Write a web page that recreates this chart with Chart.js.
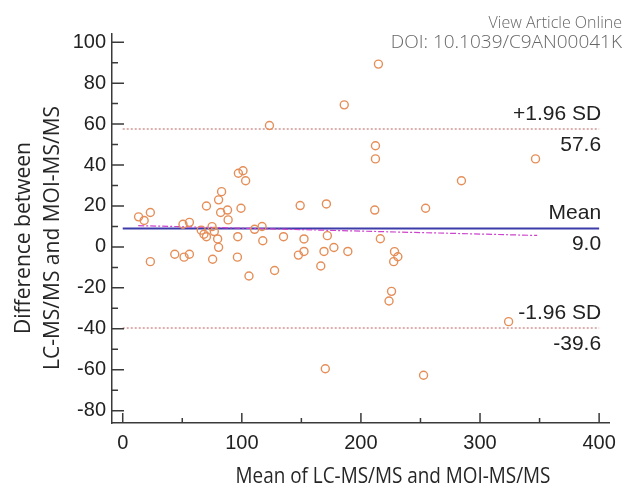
<!DOCTYPE html>
<html>
<head>
<meta charset="utf-8">
<script src="https://cdn.jsdelivr.net/npm/chart.js@4.4.1/dist/chart.umd.min.js"></script>
<style>
  body { margin: 0; background: #fff; }
  #wrap { position: relative; width: 624px; height: 490px; }
  .src { position: absolute; right: 2px; line-height: 1; color: #666; font-family: "Open Sans", sans-serif; font-weight: 300; white-space: nowrap; }
</style>
</head>
<body>
<div id="wrap">
  <canvas id="baChart" width="624" height="490"></canvas>
  <div class="src" style="top: 14px; font-size: 16px;">View Article Online</div>
  <div class="src" style="top: 32px; font-size: 19px;">DOI: 10.1039/C9AN00041K</div>
</div>
<script>
// Bland-Altman: x = mean of the two methods, y = difference between them
const meanValues = [13.3, 18.0, 23.2, 23.2, 43.7, 50.6, 56.0, 51.5, 56.0, 65.9,
                    68.2, 70.3, 70.3, 75.0, 76.9, 79.7, 80.5, 75.5, 80.5, 83.0,
                    82.2, 88.0, 88.5, 97.1, 101.0, 103.2, 99.3, 96.6, 96.3, 110.7,
                    117.0, 117.6, 127.5, 135.0, 149.0, 152.2, 147.5, 152.2, 171.0, 171.8,
                    177.3, 169.0, 166.3, 189.0, 106.0, 170.1, 212.2, 212.2, 346.6, 284.4,
                    211.6, 254.3, 216.3, 228.2, 231.0, 227.5, 225.7, 223.6, 324.0, 252.6,
                    214.7, 186.0, 123.2];
const diffValues = [14.7, 12.9, 16.8, -7.2, -3.6, 11.1, 12.0, -5.0, -3.6, 8.2,
                    6.2, 5.0, 20.0, 9.9, 7.5, 3.9, -0.2, -6.0, 23.0, 27.0,
                    16.8, 18.0, 13.2, 36.0, 37.2, 32.3, 18.9, 5.0, -5.0, 8.6,
                    10.0, 3.0, -11.5, 5.0, 20.2, 3.9, -4.0, -2.2, 21.0, 5.5,
                    -0.3, -2.2, -9.3, -2.2, -14.2, -59.5, 49.4, 43.0, 43.0, 32.3,
                    18.0, 18.9, 4.0, -2.3, -4.8, -7.2, -21.7, -26.4, -36.5, -62.7,
                    89.3, 69.4, 59.3];

const xTicks = [0, 100, 200, 300, 400];
const xMinorTicks = [50, 150, 250, 350];
const yTicks = [-80, -60, -40, -20, 0, 20, 40, 60, 80, 100];
const yMinorTicks = [-70, -50, -30, -10, 10, 30, 50, 70, 90];

const limitLabels = ['+1.96 SD', 'Mean', '-1.96 SD'];
const limitValues = [57.6, 9.0, -39.6];
const limitSpan = [0, 400];

// regression of difference on mean (dash-dot)
const trendX = [13, 348];
const trendY = [10.4, 5.6];

const xTitle = 'Mean of LC-MS/MS and MOI-MS/MS';
const yTitle = ['Difference between', 'LC-MS/MS and MOI-MS/MS'];

const tickFont = { family: '"Liberation Sans", Arial, sans-serif', size: 20 };

function flatLine(v) {
    return limitSpan.map(x => ({ x: x, y: v }));
}

// inward tick marks, limit labels and axis titles
const extrasPlugin = {
    id: 'extras',
    afterDraw(chart) {
        const { ctx, scales: { x, y } } = chart;
        const left = x.left, bottom = y.bottom;
        ctx.save();
        ctx.strokeStyle = '#3a3a3a';
        ctx.lineWidth = 1.5;
        ctx.beginPath();
        xTicks.forEach(v => { const px = x.getPixelForValue(v); ctx.moveTo(px, bottom); ctx.lineTo(px, bottom - 10); });
        xMinorTicks.forEach(v => { const px = x.getPixelForValue(v); ctx.moveTo(px, bottom); ctx.lineTo(px, bottom - 5); });
        yTicks.forEach(v => { const py = y.getPixelForValue(v); ctx.moveTo(left, py); ctx.lineTo(left + 12, py); });
        yMinorTicks.forEach(v => { const py = y.getPixelForValue(v); ctx.moveTo(left, py); ctx.lineTo(left + 6, py); });
        ctx.stroke();

        ctx.fillStyle = '#222';
        ctx.font = '21px "Liberation Sans", Arial, sans-serif';
        ctx.textAlign = 'right';
        ctx.textBaseline = 'middle';
        const rightPx = x.getPixelForValue(400) + 2;
        limitValues.forEach((v, i) => {
            const py = y.getPixelForValue(v);
            ctx.fillText(limitLabels[i], rightPx, py - 15);
            ctx.fillText(v.toFixed(1), rightPx, py + 16);
        });

        ctx.font = '21px "Open Sans", sans-serif';
        ctx.fillStyle = '#262626';
        ctx.textAlign = 'center';
        // x title is a little condensed in the original
        ctx.save();
        ctx.translate(393, 477);
        ctx.scale(0.9, 1);
        ctx.fillText(xTitle, 0, 0);
        ctx.restore();

        ctx.translate(24, 238);
        ctx.rotate(-Math.PI / 2);
        ctx.fillText(yTitle[0], 0, 0);
        ctx.fillText(yTitle[1], 0, 29);
        ctx.restore();
    }
};

const ctx = document.getElementById('baChart').getContext('2d');

new Chart(ctx, {
    data: {
        datasets: [
            {
                type: 'scatter',
                data: meanValues.map((m, i) => ({ x: m, y: diffValues[i] })),
                pointStyle: 'circle',
                pointRadius: 4,
                pointBorderWidth: 1.4,
                pointBackgroundColor: 'rgba(0,0,0,0)',
                pointBorderColor: '#e58e58',
                order: 1
            },
            {
                type: 'line',
                data: flatLine(limitValues[0]),
                borderColor: '#b8625c',
                borderWidth: 1,
                borderDash: [2, 2],
                pointRadius: 0,
                order: 3
            },
            {
                type: 'line',
                data: flatLine(limitValues[1]),
                borderColor: '#3c3caa',
                borderWidth: 2,
                pointRadius: 0,
                order: 3
            },
            {
                type: 'line',
                data: flatLine(limitValues[2]),
                borderColor: '#b8625c',
                borderWidth: 1,
                borderDash: [2, 2],
                pointRadius: 0,
                order: 3
            },
            {
                type: 'line',
                data: trendX.map((t, i) => ({ x: t, y: trendY[i] })),
                borderColor: '#cc44cc',
                borderWidth: 1.2,
                borderDash: [6, 2, 2, 2],
                pointRadius: 0,
                order: 2
            }
        ]
    },
    options: {
        responsive: false,
        devicePixelRatio: 1,
        animation: false,
        layout: { padding: { top: 34, right: 9, left: 0, bottom: 0 } },
        plugins: { legend: { display: false }, tooltip: { enabled: false } },
        scales: {
            x: {
                type: 'linear',
                min: -9,
                max: 409,
                afterFit: s => { s.height = 67; },
                afterBuildTicks: s => { s.ticks = xTicks.map(v => ({ value: v })); },
                grid: { display: false, drawTicks: false },
                border: { display: true, color: '#3a3a3a', width: 1.5 },
                ticks: { padding: 8, color: '#222', font: tickFont, maxRotation: 0 }
            },
            y: {
                type: 'linear',
                min: -86,
                max: 104,
                afterFit: s => { s.width = 112; },
                afterBuildTicks: s => { s.ticks = yTicks.map(v => ({ value: v })); },
                grid: { display: false, drawTicks: false },
                border: { display: true, color: '#3a3a3a', width: 1.5 },
                ticks: { padding: 6, color: '#222', font: tickFont }
            }
        }
    },
    plugins: [extrasPlugin]
});
</script>
</body>
</html>
